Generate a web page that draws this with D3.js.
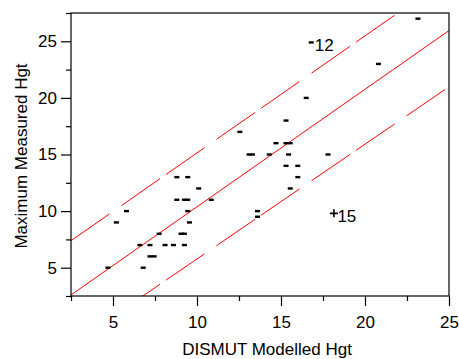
<!DOCTYPE html>
<html>
<head>
<meta charset="utf-8">
<script src="https://cdn.jsdelivr.net/npm/d3@7"></script>
<style>
  body { margin: 0; background: #fff; }
  svg { display: block; font-family: "Liberation Sans", Arial, sans-serif; }
</style>
</head>
<body>
<svg id="chart" width="459" height="359"></svg>
<script>
// modelled vs measured heights
const modelled = [4.7, 5.2, 5.8, 6.6, 6.8, 7.2, 7.2, 7.45, 7.75, 8.1, 8.6, 8.8, 8.8, 9.05, 9.25,
  9.25, 9.25, 9.45, 9.45, 9.45, 9.55, 10.1, 10.85, 12.55, 13.1, 13.3, 13.6, 13.6, 14.3, 14.7,
  15.3, 15.55, 15.3, 15.45, 15.3, 16.0, 16.0, 15.55, 16.5, 17.8, 20.8, 23.15];
const measured = [5, 9, 10, 7, 5, 7, 6, 6, 8, 7, 7, 11, 13, 8, 8,
  7, 11, 11, 13, 10, 9, 12, 11, 17, 15, 15, 10, 9.5, 15, 16,
  16, 16, 18, 15, 14, 14, 13, 12, 20, 15, 23, 27];

// labelled points
const labelNames = ["12", "15"];
const labelX = [16.8, 18.15];
const labelY = [24.9, 9.8];
const labelMark = ["dash", "plus"];

// fitted line and bands: y = a + b*x
const lineA = [4.8, 0, -4.37];
const lineB = [1.034, 1.038, 1.014];
const lineDashed = [true, false, true];

const xTicks = [5, 10, 15, 20, 25];
const yTicks = [5, 10, 15, 20, 25];
const xMinor = [2.5, 7.5, 12.5, 17.5, 22.5];
const yMinor = [2.5, 7.5, 12.5, 17.5, 22.5, 27.5];

const L = 71, R = 449, T = 13, B = 296;
const x = d3.scaleLinear().domain([2.5, 25]).range([L, R]);
const y = d3.scaleLinear().domain([2.5, 27.5]).range([B, T]);

const svg = d3.select("#chart");

svg.append("defs").append("clipPath").attr("id", "clip")
  .append("rect").attr("x", L).attr("y", T).attr("width", R - L).attr("height", B - T);

const plot = svg.append("g").attr("clip-path", "url(#clip)");

// lines
lineA.forEach((a, i) => {
  const b = lineB[i];
  const x0 = 2.5, x1 = 25;
  const path = plot.append("line")
    .attr("x1", x(x0)).attr("y1", y(a + b * x0))
    .attr("x2", x(x1)).attr("y2", y(a + b * x1))
    .attr("stroke", "#ff0000")
    .attr("stroke-width", 1);
  if (lineDashed[i]) {
    const k = (b * (B - T) / 25) / ((R - L) / 22.5);
    const f = Math.sqrt(1 + k * k);
    path.attr("stroke-dasharray", [38.5, 12, 38.5, 6].map(v => (v * f).toFixed(2)).join(" "));
  }
});

// points
plot.append("g").selectAll("rect")
  .data(modelled.map((m, i) => [m, measured[i]]))
  .join("rect")
  .attr("x", d => x(d[0]) - 2.5)
  .attr("y", d => y(d[1]) - 1.2)
  .attr("width", 5)
  .attr("height", 2.4)
  .attr("fill", "#000");

// labelled points
labelNames.forEach((name, i) => {
  const px = x(labelX[i]), py = y(labelY[i]);
  if (labelMark[i] === "dash") {
    svg.append("rect").attr("x", px - 2.5).attr("y", py - 1.2)
      .attr("width", 5).attr("height", 2.4).attr("fill", "#000");
  } else {
    svg.append("path")
      .attr("d", `M${px - 4},${py}H${px + 4}M${px},${py - 4}V${py + 4}`)
      .attr("stroke", "#000").attr("stroke-width", 1.6);
  }
  svg.append("text").attr("x", px + 3.5).attr("y", py + 8.4)
    .attr("font-size", 17).attr("fill", "#000").text(name);
});

// frame
svg.append("rect").attr("x", L).attr("y", T).attr("width", R - L).attr("height", B - T)
  .attr("fill", "none").attr("stroke", "#000").attr("stroke-width", 1.2);

// axes
const xAxis = svg.append("g").attr("transform", `translate(0,${B})`);
xAxis.call(d3.axisBottom(x).tickValues(xTicks).tickSize(10).tickPadding(10).tickFormat(d3.format("d")));
xAxis.append("g").call(d3.axisBottom(x).tickValues(xMinor).tickSize(5).tickFormat(""));

const yAxis = svg.append("g").attr("transform", `translate(${L},0)`);
yAxis.call(d3.axisLeft(y).tickValues(yTicks).tickSize(10).tickPadding(4).tickFormat(d3.format("d")));
yAxis.append("g").call(d3.axisLeft(y).tickValues(yMinor).tickSize(5).tickFormat(""));

svg.selectAll(".domain").remove();
svg.selectAll(".tick line").attr("stroke", "#000").attr("stroke-width", 1.2);
svg.selectAll(".tick text").attr("font-size", 17).attr("font-family", "Liberation Sans, Arial, sans-serif").attr("fill", "#000");

// titles
svg.append("text").attr("x", 267).attr("y", 355).attr("text-anchor", "middle")
  .attr("font-size", 17).attr("fill", "#000").text("DISMUT Modelled Hgt");
svg.append("text").attr("transform", "translate(27,156) rotate(-90)").attr("text-anchor", "middle")
  .attr("font-size", 17).attr("fill", "#000").text("Maximum Measured Hgt");
</script>
</body>
</html>
